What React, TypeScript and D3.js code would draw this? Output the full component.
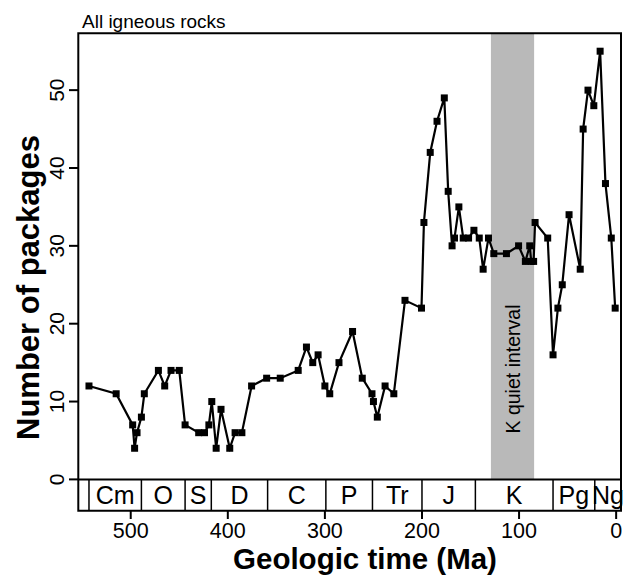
import React from 'react'
import * as d3 from 'd3'

// ages (Ma) and number of igneous packages
const ages = [
  543, 515, 498, 496, 493.5, 489, 486, 471.5, 465, 458.5, 450, 444, 430, 424, 419.5, 416.5,
  412, 407, 398, 392.5, 385.5, 375.5, 360, 346, 327.5, 319, 312.5, 307, 300, 295, 285.5,
  271.5, 261.5, 251.5, 250, 246, 238, 229, 217.5, 200.5, 198, 191.5, 184.5, 177, 173, 169,
  166.5, 162, 157.5, 152, 146.5, 141, 137, 131.5, 126, 113, 100.5, 93.5, 89, 87.5, 85,
  83.5, 70.5, 65, 60, 55.5, 48.5, 37, 34, 29, 23, 16.5, 11, 5, 1
]
const packages = [
  12, 11, 7, 4, 6, 8, 11, 14, 12, 14, 14, 7, 6, 6, 7, 10,
  4, 9, 4, 6, 6, 12, 13, 13, 14, 17, 15, 16, 12, 11, 15,
  19, 13, 11, 10, 8, 12, 11, 23, 22, 33, 42, 46, 49, 37, 30,
  31, 35, 31, 31, 32, 31, 27, 31, 29, 29, 30, 28, 30, 28, 28,
  33, 31, 16, 22, 25, 34, 27, 45, 50, 48, 55, 38, 31, 22
]

// geologic periods (older bound), last one runs to the right edge
const periodNames = ['', 'Cm', 'O', 'S', 'D', 'C', 'P', 'Tr', 'J', 'K', 'Pg', 'Ng']
const periodStarts = [554, 543, 489, 444, 417, 359, 299, 251, 200, 145, 65, 22]

const xTicks = [500, 400, 300, 200, 100, 0]
const yTicks = [0, 10, 20, 30, 40, 50]
const quietInterval = [129, 84.5]

const FONT = '"Liberation Sans", Arial, Helvetica, sans-serif'

export default function App () {
  const left = 78.3
  const right = 621
  const top = 33.3
  const barBottom = 510.7

  const x = d3.scaleLinear().domain([554, -5]).range([left, right])
  const y = d3.scaleLinear().domain([0, 57.3]).range([479.4, top])
  const barTop = y(0)

  const pts = ages.map((a, i) => [a, packages[i]] as [number, number])
  const line = d3.line<[number, number]>()
    .x(d => x(d[0]))
    .y(d => y(d[1]))

  const bounds = periodStarts.concat([-5])

  return (
    <svg width={635} height={578} style={{ position: 'absolute', left: 0, top: 0, background: '#fff' }}
      fontFamily={FONT}>
      <text x={82} y={28} fontSize={19}>All igneous rocks</text>

      {/* K quiet interval */}
      <rect x={x(quietInterval[0])} y={top} width={x(quietInterval[1]) - x(quietInterval[0])}
        height={barTop - top} fill='#b9b9b9' />
      <text transform={`translate(${(x(quietInterval[0]) + x(quietInterval[1])) / 2 + 7},369) rotate(-90)`}
        textAnchor='middle' fontSize={19.5}>K quiet interval</text>

      {/* frame */}
      <path d={`M${left},${barBottom}V${top}H${right}V${barBottom}Z`} fill='none' stroke='#000' strokeWidth={2} />
      <line x1={left} x2={right} y1={barTop} y2={barTop} stroke='#000' strokeWidth={2} />

      {/* period bar */}
      {periodNames.map((p, i) => {
        const x0 = x(bounds[i])
        const x1 = x(bounds[i + 1])
        return (
          <g key={i}>
            {i > 0 && <line x1={x0} x2={x0} y1={barTop} y2={barBottom} stroke='#000' strokeWidth={1.5} />}
            <text x={(x0 + x1) / 2} y={503.5} textAnchor='middle' fontSize={25}>{p}</text>
          </g>
        )
      })}

      {/* x axis */}
      {xTicks.map(t => (
        <g key={t}>
          <line x1={x(t)} x2={x(t)} y1={barBottom} y2={519} stroke='#000' strokeWidth={2} />
          <text x={x(t)} y={537.5} textAnchor='middle' fontSize={21.5}>{t}</text>
        </g>
      ))}
      <text x={365} y={569} textAnchor='middle' fontSize={29.5} fontWeight='bold'>Geologic time (Ma)</text>

      {/* y axis */}
      {yTicks.map(t => (
        <g key={t}>
          <line x1={69} x2={left} y1={y(t)} y2={y(t)} stroke='#000' strokeWidth={2} />
          <text transform={`translate(63.5,${y(t)}) rotate(-90)`} textAnchor='middle' fontSize={21}>{t}</text>
        </g>
      ))}
      <text transform='translate(39,287.5) rotate(-90)' textAnchor='middle' fontSize={31} fontWeight='bold'>
        Number of packages
      </text>

      {/* series */}
      <path d={line(pts) ?? ''} fill='none' stroke='#000' strokeWidth={2.2} />
      {pts.map((d, i) => (
        <rect key={i} x={x(d[0]) - 3.5} y={y(d[1]) - 3.5} width={7} height={7} fill='#000' />
      ))}
    </svg>
  )
}
